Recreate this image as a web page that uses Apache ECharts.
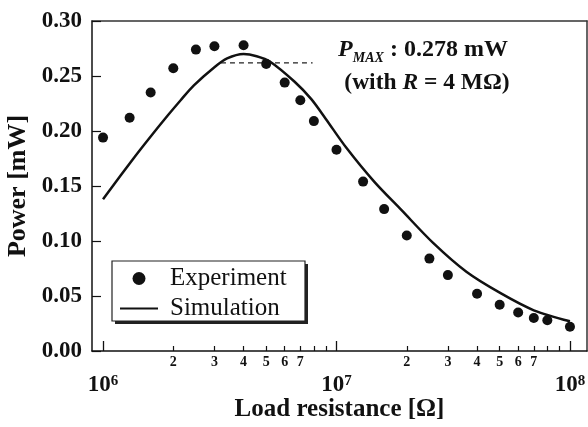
<!DOCTYPE html>
<html>
<head>
<meta charset="utf-8">
<script src="https://cdn.jsdelivr.net/npm/echarts@6/dist/echarts.min.js"></script>
<style>
html, body { margin: 0; padding: 0; background: #fff; }
#power-chart { width: 588px; height: 427px; }
</style>
</head>
<body>
<div id="power-chart"></div>
<script>
// experiment: load resistance [ohm] / power [mW]
var expR = [1.0e6, 1.3e6, 1.6e6, 2.0e6, 2.5e6, 3.0e6, 4.0e6, 5.0e6, 6.0e6, 7.0e6, 8.0e6,
            1.0e7, 1.3e7, 1.6e7, 2.0e7, 2.5e7, 3.0e7, 4.0e7, 5.0e7, 6.0e7, 7.0e7, 8.0e7, 1.0e8];
var expP = [0.194, 0.212, 0.235, 0.257, 0.274, 0.277, 0.278, 0.261, 0.244, 0.228, 0.209,
            0.183, 0.154, 0.129, 0.105, 0.084, 0.069, 0.052, 0.042, 0.035, 0.030, 0.028, 0.022];
// simulation curve
var simR = [1.0e6, 1.35e6, 1.6e6, 1.9e6, 2.15e6, 2.45e6, 3.0e6, 3.4e6, 4.0e6, 4.55e6, 5.2e6, 6.6e6, 7.8e6,
            9.0e6, 1.1e7, 1.45e7, 1.9e7, 2.6e7, 3.6e7, 5.0e7, 7.0e7, 1.0e8];
var simP = [0.138, 0.175, 0.195, 0.2145, 0.228, 0.2415, 0.258, 0.266, 0.270, 0.268, 0.263, 0.245, 0.229,
            0.211, 0.185, 0.154, 0.128, 0.098, 0.072, 0.053, 0.037, 0.027];
// dashed guide near the peak
var guideR = [3.2e6, 7.9e6];
var guideP = [0.262, 0.262];

var xMin = 8.97e5, xMax = 1.183e8;
var yMin = 0, yMax = 0.30, yStep = 0.05;
var decades = [6, 7, 8];
var minorMant = [2, 3, 4, 5, 6, 7, 8, 9];
var labelMant = [2, 3, 4, 5, 6, 7];

var serif = '"Liberation Serif", "Times New Roman", serif';
var ink = '#111';

function pairs(xs, ys) {
  return xs.map(function (x, i) { return [x, ys[i]]; });
}
function minorValues(mants) {
  var out = [];
  decades.slice(0, 2).forEach(function (d) {
    mants.forEach(function (m) { out.push(d + Math.log10(m)); });
  });
  return out;
}
var lgMin = Math.log10(xMin), lgMax = Math.log10(xMax);
var frameLine = { show: true, lineStyle: { color: '#333', width: 1.5 } };

var chart = echarts.init(document.getElementById('power-chart'));
var option = {
  animation: false,
  backgroundColor: '#fff',
  grid: { left: 92, top: 21, right: 1, bottom: 76, outerBoundsMode: 'none' },
  legend: {
    data: [
      { name: 'Experiment', icon: 'circle' },
      { name: 'Simulation', icon: 'path://M0,0H38V2H0Z' }
    ],
    orient: 'vertical',
    left: 112, top: 261,
    itemWidth: 38, itemHeight: 13, itemGap: 5,
    padding: [5, 10, 5, 8],
    textStyle: { fontFamily: serif, fontSize: 25, color: ink, lineHeight: 24, padding: [0, 0, 0, 7] }
  },
  xAxis: [
    { // data axis (log), hidden
      type: 'log', min: xMin, max: xMax, show: false
    },
    { // minor ticks 2..9
      type: 'value', min: lgMin, max: lgMax, position: 'bottom',
      name: 'Load resistance [\u03A9]', nameLocation: 'middle', nameGap: 46,
      nameTextStyle: { fontFamily: serif, fontSize: 25, fontWeight: 'bold', color: ink },
      axisLine: { show: true, lineStyle: { color: ink, width: 1.5 } },
      axisTick: { inside: true, length: 5, customValues: minorValues(minorMant), lineStyle: { color: ink, width: 1.2 } },
      axisLabel: {
        customValues: minorValues(labelMant), margin: 4,
        fontFamily: serif, fontSize: 14, fontWeight: 'bold', color: ink,
        formatter: function (v) { return String(Math.round(Math.pow(10, v - Math.floor(v + 1e-9)))); }
      },
      splitLine: { show: false }
    },
    { // decades 10^6, 10^7, 10^8
      type: 'value', min: lgMin, max: lgMax, position: 'bottom',
      axisLine: { show: false },
      axisTick: { inside: true, length: 10, customValues: decades, lineStyle: { color: ink, width: 1.3 } },
      axisLabel: {
        customValues: decades, margin: 23,
        formatter: function (v) { return '{b|10}{s|' + Math.round(v) + '}'; },
        rich: {
          b: { fontFamily: serif, fontSize: 23, fontWeight: 'bold', color: ink, lineHeight: 22 },
          s: { fontFamily: serif, fontSize: 15, fontWeight: 'bold', color: ink, verticalAlign: 'top', lineHeight: 14 }
        }
      },
      splitLine: { show: false }
    },
    { // top frame
      type: 'value', min: lgMin, max: lgMax, position: 'top',
      axisLine: frameLine, axisTick: { show: false }, axisLabel: { show: false }, splitLine: { show: false }
    }
  ],
  yAxis: [
    {
      type: 'value', min: yMin, max: yMax, interval: yStep,
      name: 'Power [mW]', nameLocation: 'middle', nameGap: 60,
      nameTextStyle: { fontFamily: serif, fontSize: 26, fontWeight: 'bold', color: ink },
      axisLine: { show: true, lineStyle: { color: ink, width: 1.5 } },
      axisTick: { show: true, inside: true, length: 9, lineStyle: { color: ink, width: 1.2 } },
      axisLabel: {
        margin: 10, fontFamily: serif, fontSize: 23, fontWeight: 'bold', color: ink,
        formatter: function (v) { return v.toFixed(2); }
      },
      splitLine: { show: false }
    },
    { // right frame
      type: 'value', min: yMin, max: yMax, interval: yStep, position: 'right',
      axisLine: frameLine, axisTick: { show: false }, axisLabel: { show: false }, splitLine: { show: false }
    }
  ],
  graphic: [
    { // legend box shadow + frame
      type: 'rect', shape: { x: 115, y: 264, width: 193, height: 60 },
      style: { fill: '#222' }, z: 0
    },
    {
      type: 'rect', shape: { x: 112, y: 261, width: 193, height: 60 },
      style: { fill: '#fff', stroke: '#222', lineWidth: 1.2 }, z: 0
    },
    {
      type: 'text', x: 423, y: 50, z: 10,
      style: {
        text: '{p|P}{s|MAX}{b| : 0.278 mW}', align: 'center', verticalAlign: 'middle',
        rich: {
          p: { fontFamily: serif, fontSize: 24, fontWeight: 'bold', fontStyle: 'italic', fill: ink },
          s: { fontFamily: serif, fontSize: 14, fontWeight: 'bold', fontStyle: 'italic', fill: ink, padding: [16, 0, 0, 0] },
          b: { fontFamily: serif, fontSize: 24, fontWeight: 'bold', fill: ink }
        }
      }
    },
    {
      type: 'text', x: 427, y: 83, z: 10,
      style: {
        text: '{b|(with }{i|R}{b| = 4 M\u03A9)}', align: 'center', verticalAlign: 'middle',
        rich: {
          b: { fontFamily: serif, fontSize: 23.5, fontWeight: 'bold', fill: ink },
          i: { fontFamily: serif, fontSize: 23.5, fontWeight: 'bold', fontStyle: 'italic', fill: ink }
        }
      }
    }
  ],
  series: [
    {
      name: 'Simulation', type: 'line', xAxisIndex: 0,
      data: pairs(simR, simP), smooth: 0.3, symbol: 'none',
      lineStyle: { color: ink, width: 2.5 }, itemStyle: { color: ink }, z: 2
    },
    {
      name: 'guide', type: 'line', xAxisIndex: 0,
      data: pairs(guideR, guideP), symbol: 'none',
      lineStyle: { color: '#222', width: 1.3, type: [5, 4] }, z: 1
    },
    {
      name: 'Experiment', type: 'scatter', xAxisIndex: 0,
      data: pairs(expR, expP), symbol: 'circle', symbolSize: 10,
      itemStyle: { color: ink, opacity: 1 }, z: 3
    }
  ]
};
chart.setOption(option);
</script>
</body>
</html>
